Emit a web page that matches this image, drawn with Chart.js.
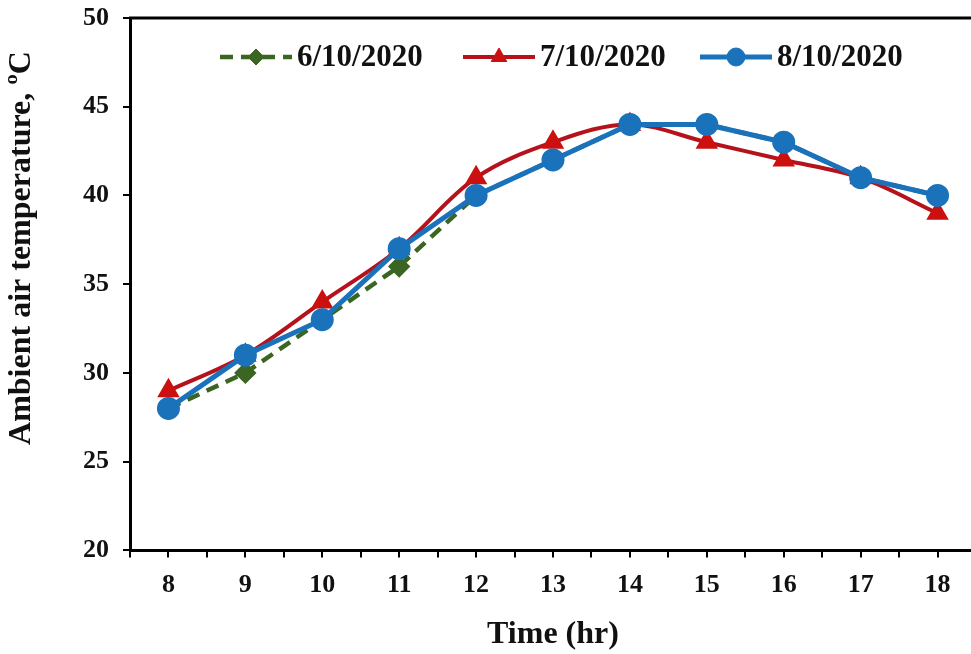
<!DOCTYPE html>
<html>
<head>
<meta charset="utf-8">
<script src="https://cdn.jsdelivr.net/npm/chart.js@4/dist/chart.umd.min.js"></script>
<style>
  html, body { margin: 0; padding: 0; background: #fff; overflow: hidden; }
  #wrap { width: 971px; height: 654px; overflow: hidden; }
</style>
</head>
<body>
<div id="wrap"><canvas id="tempChart" width="990" height="654"></canvas></div>
<script>
const hours = [8, 9, 10, 11, 12, 13, 14, 15, 16, 17, 18];
const day1 = [28, 30, 33, 36, 40, 42, 44, 44, 43, 41, 40]; // 6/10/2020 (hidden under the blue line after 12)
const day2 = [29, 31, 34, 37, 41, 43, 44, 43, 42, 41, 39]; // 7/10/2020
const day3 = [28, 31, 33, 37, 40, 42, 44, 44, 43, 41, 40]; // 8/10/2020
const seriesNames = ['6/10/2020', '7/10/2020', '8/10/2020'];
const yTicks = [20, 25, 30, 35, 40, 45, 50];
const yTitle = 'Ambient air temperature, \u00BAC';
const xTitle = 'Time (hr)';

const GREEN = '#3b6523', RED = '#b5121b', BLUE = '#1a72bb';
const FONT = '"Liberation Serif", "Times New Roman", serif';

const pts = arr => arr.map((v, i) => ({ x: hours[i], y: v }));

// draws the top border, the rotated y title and the in-plot legend
const extras = {
    id: 'extras',
    afterDraw(chart) {
        const { ctx, chartArea: a } = chart;
        ctx.save();
        ctx.strokeStyle = '#000';
        ctx.lineWidth = 3;
        ctx.beginPath();
        ctx.moveTo(a.left - 1, a.top);
        ctx.lineTo(chart.width, a.top);
        ctx.stroke();

        ctx.fillStyle = '#111';
        ctx.font = 'bold 32px ' + FONT;
        ctx.translate(a.left - 108, a.top + 230);
        ctx.rotate(-Math.PI / 2);
        ctx.textAlign = 'center';
        ctx.textBaseline = 'middle';
        ctx.fillText(yTitle, 0, 0);
        ctx.restore();

        // legend: line + marker + label
        const starts = [90, 333, 570];
        const ly = a.top + 39;
        ctx.save();
        ctx.font = 'bold 31px ' + FONT;
        ctx.textBaseline = 'middle';
        chart.data.datasets.forEach((ds, k) => {
            const x0 = a.left + starts[k];
            ctx.save();
            ctx.strokeStyle = ds.borderColor;
            ctx.lineWidth = ds.borderWidth;
            ctx.setLineDash(ds.borderDash || []);
            ctx.beginPath();
            ctx.moveTo(x0, ly);
            ctx.lineTo(x0 + 72, ly);
            ctx.stroke();
            ctx.restore();
            ctx.fillStyle = ds.pointBackgroundColor;
            ctx.strokeStyle = ds.pointBorderColor;
            ctx.lineWidth = 1;
            Chart.helpers.drawPoint(ctx, { pointStyle: ds.pointStyle, radius: ds.pointRadius, rotation: 0, borderWidth: 1 }, x0 + 36, ly);
            ctx.fillStyle = '#111';
            ctx.fillText(ds.label, x0 + 77, ly + 1);
        });
        ctx.restore();
    }
};

new Chart(document.getElementById('tempChart').getContext('2d'), {
    type: 'line',
    data: {
        datasets: [
            {
                label: seriesNames[0], data: pts(day1), order: 2,
                borderColor: GREEN, borderWidth: 4.5, borderDash: [13, 8], tension: 0,
                pointStyle: 'rectRot', pointRadius: 8,
                pointBackgroundColor: GREEN, pointBorderColor: GREEN
            },
            {
                label: seriesNames[1], data: pts(day2), order: 1,
                borderColor: RED, borderWidth: 4, tension: 0.35,
                pointStyle: 'triangle', pointRadius: 9,
                pointBackgroundColor: '#cc1010', pointBorderColor: '#cc1010'
            },
            {
                label: seriesNames[2], data: pts(day3), order: 0,
                borderColor: BLUE, borderWidth: 5, tension: 0,
                pointStyle: 'circle', pointRadius: 9,
                pointBackgroundColor: BLUE, pointBorderColor: BLUE
            }
        ]
    },
    options: {
        responsive: false, animation: false,
        layout: { padding: { left: 69, top: 18, right: 4, bottom: 0 } },
        plugins: { legend: { display: false }, tooltip: { enabled: false } },
        scales: {
            x: {
                type: 'linear', min: 7.5, max: 18.5,
                afterFit: s => { s.paddingLeft = 0; s.paddingRight = 0; },
                border: { display: true, color: '#000', width: 3 },
                grid: { drawOnChartArea: false, drawTicks: true, tickLength: 7, color: '#000', lineWidth: 2 },
                ticks: {
                    stepSize: 0.5, color: '#111', padding: 12,
                    font: { family: FONT, size: 26, weight: 'bold' },
                    callback: v => Number.isInteger(v) && hours.includes(v) ? String(v) : ''
                },
                title: { display: true, text: xTitle, color: '#111', padding: { top: 3, bottom: 0 },
                         font: { family: FONT, size: 32, weight: 'bold' } }
            },
            y: {
                min: yTicks[0], max: yTicks[yTicks.length - 1],
                afterBuildTicks: s => { s.ticks = yTicks.map(v => ({ value: v })); },
                afterFit: s => { s.paddingTop = 0; s.paddingBottom = 0; },
                border: { display: true, color: '#000', width: 3 },
                grid: { drawOnChartArea: false, drawTicks: true, tickLength: 7, color: '#000', lineWidth: 2 },
                ticks: { color: '#111', padding: 14, font: { family: FONT, size: 26, weight: 'bold' } }
            }
        }
    },
    plugins: [extras]
});
</script>
</body>
</html>
